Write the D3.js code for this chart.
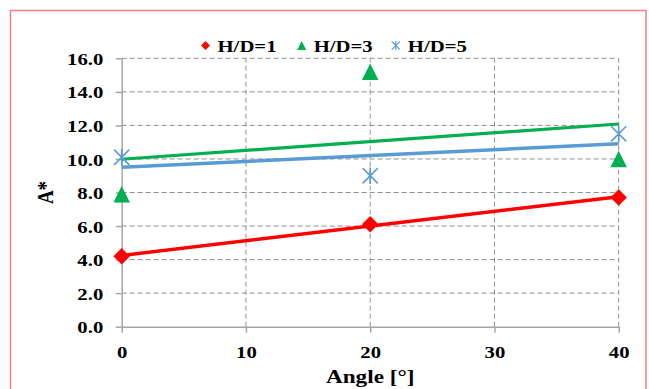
<!DOCTYPE html>
<html><head><meta charset="utf-8">
<script src="https://cdn.jsdelivr.net/npm/d3@7"></script>
<style>
html,body{margin:0;padding:0;background:#fff;}
svg{display:block;}
text{font-family:"Liberation Serif","Times New Roman",serif;font-weight:bold;fill:#000;}
</style></head><body>
<svg id="chart" width="649" height="389"></svg>
<script>
// Data
const angles = [0, 20, 40];
const hd1 = [4.2, 6.1, 7.7];
const hd3 = [7.9, 15.2, 10.0];
const hd5 = [10.1, 9.0, 11.5];
const seriesNames = ["H/D=1", "H/D=3", "H/D=5"];
const xTicks = [0, 10, 20, 30, 40];
const yTicks = [0, 2, 4, 6, 8, 10, 12, 14, 16];
const xTitle = "Angle [°]";
const yTitle = "A*";

const series = [
  {name: seriesNames[0], values: hd1, color: "#ff0000", marker: "diamond", lw: 3.5},
  {name: seriesNames[1], values: hd3, color: "#00b050", marker: "triangle", lw: 3.2},
  {name: seriesNames[2], values: hd5, color: "#5b9bd5", marker: "star", lw: 3.5}
];

const SX = 1.22; // horizontal stretch of the lettering
const svg = d3.select("#chart");

// outer frame
svg.append("rect").attr("x", 10.5).attr("y", 10.5).attr("width", 635.5).attr("height", 400)
  .attr("fill", "#fff").attr("stroke", "#f4807f").attr("stroke-width", 1.5);

const x = d3.scaleLinear().domain([0, 40]).range([121.7, 618.7]);
const y = d3.scaleLinear().domain([0, 16]).range([326.7, 58.3]);

// dashed grid
const grid = svg.append("g").attr("stroke", "#8f8f8f").attr("stroke-width", 1).attr("stroke-dasharray", "5,3");
grid.selectAll("line.h").data(yTicks.filter(d => d > 0)).join("line")
  .attr("x1", x(0)).attr("x2", x(40)).attr("y1", d => y(d)).attr("y2", d => y(d));
grid.selectAll("line.v").data(xTicks.filter(d => d > 0)).join("line")
  .attr("y1", y(0)).attr("y2", y(16)).attr("x1", d => x(d)).attr("x2", d => x(d));

// axes
const yAxis = svg.append("g").attr("transform", `translate(${x(0)},0)`)
  .call(d3.axisLeft(y).tickValues(yTicks).tickFormat(d3.format(".1f")).tickSize(6).tickSizeOuter(0));
const xAxis = svg.append("g").attr("transform", `translate(0,${y(0)})`)
  .call(d3.axisBottom(x).tickValues(xTicks).tickFormat(d3.format("d")).tickSize(6).tickSizeOuter(0));
[yAxis, xAxis].forEach(a => {
  a.select(".domain").attr("stroke", "#a6a6a6").attr("stroke-width", 1.5);
  a.selectAll(".tick line").attr("stroke", "#a6a6a6").attr("stroke-width", 1.5);
  a.selectAll(".tick text").attr("fill", "#000").style("font-size", "17px")
    .style("font-family", "'Liberation Serif','Times New Roman',serif").style("font-weight", "bold");
});
yAxis.selectAll(".tick text").attr("x", 0).attr("dy", "0.36em").attr("text-anchor", "end")
  .attr("transform", `translate(-18.4,0) scale(${SX},1)`);
xAxis.selectAll(".tick text").attr("y", 0).attr("dy", 0)
  .attr("transform", `translate(0,31.6) scale(${SX},1)`);

// axis titles
svg.append("text").attr("text-anchor", "middle").style("font-size", "19px")
  .attr("transform", `translate(${(x(0) + x(40)) / 2},383) scale(${SX},1)`).text(xTitle);
svg.append("text").attr("text-anchor", "middle").style("font-size", "19px")
  .attr("transform", `translate(53,${(y(0) + y(16)) / 2}) scale(${SX},1) rotate(-90)`).text(yTitle);

// least-squares trendlines
function fit(xs, ys) {
  const mx = d3.mean(xs), my = d3.mean(ys);
  const b = d3.sum(xs, (v, i) => (v - mx) * (ys[i] - my)) / d3.sum(xs, v => (v - mx) ** 2);
  return {a: my - b * mx, b};
}
const line = d3.line().x(d => x(d[0])).y(d => y(d[1]));
series.forEach(s => {
  const f = fit(angles, s.values);
  const ends = [0, 40].map(v => [v, f.a + f.b * v]);
  svg.append("path").attr("d", line(ends)).attr("fill", "none")
    .attr("stroke", s.color).attr("stroke-width", s.lw);
});

// markers
function marker(g, type, size, color) {
  const h = size / 2;
  if (type === "diamond") {
    g.append("path").attr("d", `M0,${-h}L${h},0L0,${h}L${-h},0Z`).attr("fill", color);
  } else if (type === "triangle") {
    g.append("path").attr("d", `M0,${-h}L${h},${h}L${-h},${h}Z`).attr("fill", color);
  } else {
    const k = h * 0.92;
    g.append("path").attr("d", `M${-k},${-k}L${k},${k}M${-k},${k}L${k},${-k}M0,${-h}L0,${h}`)
      .attr("fill", "none").attr("stroke", color).attr("stroke-width", size > 10 ? 1.6 : 1.2);
  }
}
series.forEach(s => {
  s.values.forEach((v, i) => {
    const g = svg.append("g").attr("transform", `translate(${x(angles[i])},${y(v)})`);
    marker(g, s.marker, 16.5, s.color);
  });
});

// legend
const legendX = [205.5, 301.7, 395.8];
series.forEach((s, i) => {
  const g = svg.append("g").attr("transform", `translate(${legendX[i]},45.5)`);
  marker(g, s.marker, 9, s.color);
  svg.append("text").style("font-size", "17px")
    .attr("transform", `translate(${legendX[i] + 12},52) scale(${SX},1)`).text(s.name);
});
</script>
</body></html>
